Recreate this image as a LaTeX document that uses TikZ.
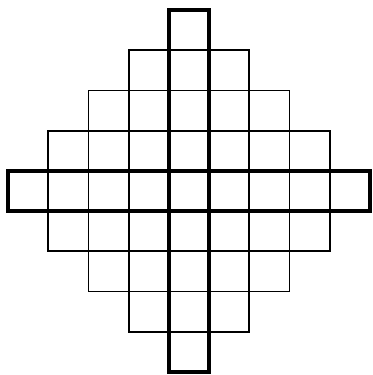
\documentclass[tikz,border=0pt]{standalone}
\begin{document}
\begin{tikzpicture}[scale=1]
  \useasboundingbox (-4.7,-4.575) rectangle (4.575,4.75);
  % Diamond of cells
  \foreach \i in {-4,...,4} {
    \foreach \j in {-4,...,4} {
      \pgfmathtruncatemacro{\d}{abs(\i)+abs(\j)}
      \ifnum\d<5
        \draw[line width=1.2pt] (\i-0.5,\j-0.5) rectangle (\i+0.5,\j+0.5);
      \fi
    }
  }
  % Middle row and column
  \draw[line width=2.4pt] (-4.5,-0.5) rectangle (4.5,0.5);
  \draw[line width=2.4pt] (-0.5,-4.5) rectangle (0.5,4.5);
\end{tikzpicture}
\end{document}
